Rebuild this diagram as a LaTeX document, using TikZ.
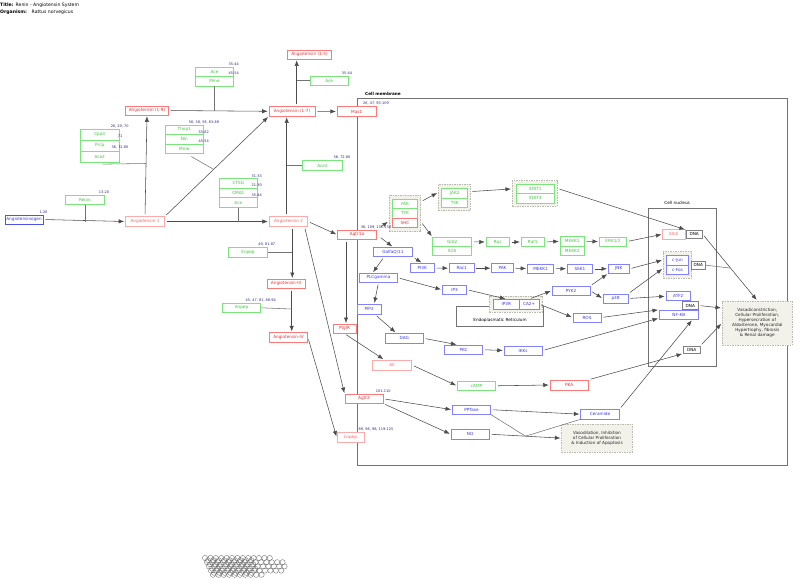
\documentclass[tikz,border=0pt]{standalone}
\usepackage{fontspec}
\setmainfont{DejaVu Sans}
\usetikzlibrary{arrows.meta,calc}
\newcommand\bxfont{\fontsize{4.2pt}{5pt}\selectfont}
\newcommand\nmfont{\fontsize{3.5pt}{4pt}\selectfont}
\newcommand\ttfnt{\fontsize{4.6pt}{5.5pt}\selectfont}
\definecolor{rB}{RGB}{255,120,120}
\definecolor{rT}{RGB}{235,45,45}
\definecolor{pB}{RGB}{255,170,170}
\definecolor{pT}{RGB}{250,95,95}
\definecolor{gB}{RGB}{120,230,120}
\definecolor{gT}{RGB}{60,200,60}
\definecolor{bB}{RGB}{130,130,255}
\definecolor{bB2}{RGB}{80,80,235}
\definecolor{bT}{RGB}{55,55,240}
\definecolor{numC}{RGB}{40,40,130}
\definecolor{grpF}{RGB}{243,242,234}
\definecolor{grpD}{RGB}{185,185,175}
\tikzset{
 bx/.style={draw, rectangle, line width=0.6pt, font=\bxfont, inner sep=0pt, fill=white},
 sz/.style 2 args={minimum width=#1pt, minimum height=#2pt},
 rb/.style={bx, draw=rB, text=rT},
 pb/.style={bx, draw=pB, text=pT},
 gb/.style={bx, draw=gB, text=gT},
 bb/.style={bx, draw=bB, text=bT},
 db/.style={bx, draw=black!50, text=black},
 grp/.style={draw=grpD, dash pattern=on 1.5pt off 1pt, fill=grpF, line width=0.7pt, inner sep=0pt},
 plainbox/.style={draw=black!55, line width=0.6pt, inner sep=0pt},
 num/.style={font=\nmfont, text=numC, inner sep=0pt},
 arr/.style={draw=black!70, line width=0.55pt, -{Latex[length=5.5pt,width=4.3pt]}, shorten >=1pt, shorten <=2pt},
 ln/.style={draw=black!55, line width=0.55pt},
 circ/.style={draw=black!60, line width=0.35pt},
}
\begin{document}
\begin{tikzpicture}[x=1pt,y=-1pt]
\useasboundingbox (0,0) rectangle (800,584);
% title
\node[anchor=west, font=\ttfnt\bfseries, inner sep=0pt] (tl) at (0,5) {Title:};
\node[anchor=west, font=\ttfnt, inner sep=0pt] (tv) at (15.5,5) {Renin - Angiotensin System};
\node[anchor=west, font=\ttfnt\bfseries, inner sep=0pt] (ol) at (0,12) {Organism:};
\node[anchor=west, font=\ttfnt, inner sep=0pt] (ov) at (31.5,12) {Rattus norvegicus};
% compartments
\node[plainbox, sz={429.7}{366.7}] (memb) at (572.15,281.65) {};
\node[anchor=west, font=\bxfont\bfseries, inner sep=0pt] (membl) at (365,93.5) {Cell membrane};
\node[plainbox, sz={68.4}{157.7}] (nuc) at (682.5,287.15) {};
\node[font=\bxfont, inner sep=0pt] (nucl) at (677.2,203.3) {Cell nucleus};
\node[plainbox, sz={87.3}{20.7}] (er) at (499.65,316.35) {};
\node[font=\bxfont, inner sep=0pt] (erl) at (500,320.3) {Endoplasmatic Reticulum};
% groups
\node[grp, sz={31.7}{36.7}] (fakgrp) at (404.85,213.35) {};
\node[grp, sz={31.7}{26.4}] (jakgrp) at (454.15,197.5) {};
\node[grp, sz={45}{25.3}] (statgrp) at (534.8,193.35) {};
\node[grp, sz={53}{16.3}] (ergrp) at (515.8,304.15) {};
\node[grp, sz={28.4}{26.6}] (cjungrp) at (677.5,265) {};
\node[grp, sz={70}{44}, font=\bxfont, align=center, text=black!85] (outcome) at (757.3,323)
 {\baselineskip=5.1pt Vasadiconstriction,\\ Cellular Proliferation,\\ Hypersecration of\\ Aldosterone, Myocardial\\ Hypertrophy, fibrosis\\ \& Renal damage};
\node[grp, sz={70.6}{28.3}, font=\bxfont, align=center, text=black!85] (vaso) at (597,438.15)
 {Vasodilation, Inhibition\\ of Cellular Proliferation\\ \& Induction of Apoptosis};
% red / pink
\node[rb, sz={43}{9}] (a19) at (147,110.5) {Angiotensin (1-9)};
\node[rb, sz={46}{9.5}] (a17) at (292,111.3) {Angiotensin (1-7)};
\node[rb, sz={44}{9}] (a15) at (309.5,54.5) {Angiotensin (1-5)};
\node[rb, sz={39}{9.5}] (mas1) at (356.7,111.5) {Mas1};
\node[pb, sz={39}{9.5}] (a1) at (145,221.5) {Angiotensin 1};
\node[pb, sz={38.5}{9.6}] (a2) at (288.5,221.5) {Angiotensin 2};
\node[rb, sz={39}{9.3}] (agtr1a) at (357,234.7) {Agtr1a};
\node[rb, sz={38.3}{9}] (a3) at (286,283.8) {Angiotensin-III};
\node[rb, sz={38.3}{9.6}] (a4) at (288.5,337.5) {Angiotensin-IV};
\node[rb, sz={22.7}{9}] (ptgir) at (344.5,328.8) {PtgIR};
\node[rb, sz={38.3}{9}] (agtr2) at (364,398.8) {Agtr2};
\node[pb, sz={27}{9.6}] (lnpep) at (350.5,437.5) {Lnpep};
\node[pb, sz={39}{10}] (ac) at (392.2,365) {AC};
\node[rb, sz={38.3}{10}] (pka) at (569.2,385) {PKA};
\node[pb, sz={22.3}{10}] (elk1) at (673.9,234.3) {Elk1};
% green
\node[gb, sz={39}{9.5}] (renin) at (85,200) {Renin};
\node[gb, sz={39.3}{11}] (cpa3) at (99.7,134.8) {Cpa3};
\node[gb, sz={39.3}{11}] (prcp) at (99.7,145.8) {Prcp};
\node[gb, sz={39.3}{11}] (ace2s) at (99.7,156.8) {Ace2};
\node[gb, sz={38}{9.4}] (thop1) at (184.3,129.7) {Thop1};
\node[gb, sz={38}{9.4}] (nln) at (184.3,139.1) {Nln};
\node[gb, sz={38}{9.4}] (mme) at (184.3,148.5) {Mme};
\node[gb, sz={37.6}{9.5}] (acet) at (214.5,71.9) {Ace};
\node[gb, sz={37.6}{9.5}] (mmet) at (214.5,81.4) {Mme};
\node[gb, sz={38.3}{9.3}] (acer) at (329.2,80.7) {Ace};
\node[gb, sz={40.4}{10.5}] (ace2) at (322.5,165.5) {Ace2};
\node[gb, sz={38}{9.7}] (ctsg) at (238.3,183.1) {CTSG};
\node[gb, sz={38}{9.7}] (cma1) at (238.3,192.8) {CMA1};
\node[gb, sz={38}{9.7}] (acec) at (238.3,202.5) {Ace};
\node[gb, sz={39.3}{9.7}] (enpep) at (248,252.2) {Enpep};
\node[gb, sz={38.3}{9}] (anpep) at (241.5,307.8) {Anpep};
\node[gb, sz={25.4}{9.3}] (fak) at (405,204) {FAK};
\node[gb, sz={25.4}{9.3}] (tyka) at (405,213.3) {TYK};
\node[rb, sz={25.4}{9.3}] (shc) at (405,222.6) {SHC};
\node[gb, sz={26}{9.5}] (jak2) at (454.7,193.05) {JAK2};
\node[gb, sz={26}{9.5}] (tykb) at (454.7,202.55) {TYK};
\node[gb, sz={38.3}{9.65}] (stat1) at (535.15,188.8) {STAT1};
\node[gb, sz={38.3}{9.65}] (stat3) at (535.15,198.45) {STAT3};
\node[gb, sz={39}{9.2}] (grb2) at (452.2,241.9) {Grb2};
\node[gb, sz={39}{9.2}] (sos) at (452.2,251.1) {SOS};
\node[gb, sz={23.3}{8.6}] (ras) at (497.7,242) {Ras};
\node[gb, sz={23.3}{9.3}] (raf1) at (532.7,242) {Raf1};
\node[gb, sz={24.3}{9.2}] (mekka) at (572.2,241.3) {MEKK1};
\node[gb, sz={24.3}{9.2}] (mekkb) at (572.2,250.5) {MEKK2};
\node[gb, sz={27.4}{9.3}] (erk) at (613,241.5) {ERK1/2};
\node[gb, sz={38.4}{9.7}] (camp) at (476.5,385.8) {cAMP};
% blue
\node[bb, draw=bB2, sz={38}{9}] (agen) at (24,219.5) {Angiotensinogen};
\node[bb, sz={39.4}{9.4}] (galfa) at (393,252) {GalfaQ/11};
\node[bb, sz={38.3}{9}] (plc) at (378.5,277.8) {PLCgamma};
\node[bb, sz={24.3}{9.4}] (pi3k) at (422.2,268) {PI3K};
\node[bb, sz={24.7}{9}] (rac1) at (461.7,268.2) {Rac1};
\node[bb, sz={21.6}{9}] (pak) at (502.5,268.2) {PAK};
\node[bb, sz={26}{9}] (mekk1) at (540.5,268.5) {MEKK1};
\node[bb, sz={25.4}{9}] (sek1) at (580,268.8) {SEK1};
\node[bb, sz={21}{9}] (jnk) at (618.8,268.8) {JNK};
\node[bb, sz={24.4}{9.3}] (ip3) at (454.5,289.7) {IP3};
\node[bb, sz={26}{9.7}] (ip3r) at (506.3,304.15) {IP3R};
\node[bb, sz={19.7}{9.7}] (ca) at (529.15,304.15) {CA2+};
\node[bb, sz={38}{9}] (pyk2) at (571,290.7) {PYK2};
\node[bb, sz={25}{9}] (p38) at (615.5,298.5) {p38};
\node[bb, sz={28}{9}] (ros) at (587,317.5) {ROS};
\node[bb, sz={23.7}{10}] (pip2) at (369.2,309.3) {PIP2};
\node[bb, sz={38.3}{10}] (dag) at (404.2,338.3) {DAG};
\node[bb, sz={38.4}{9.3}] (pkc) at (463.5,349.7) {PKC};
\node[bb, sz={38.3}{9}] (ikk) at (523.2,350.5) {IKKs};
\node[bb, sz={38.4}{9.3}] (pptase) at (471.5,409.7) {PPTase};
\node[bb, sz={38.3}{9.7}] (no) at (470.2,434.2) {NO};
\node[bb, sz={38.6}{9.7}] (ceramide) at (600,414.2) {Ceramide};
\node[bb, sz={21.6}{9.5}] (cjun) at (677.5,260.05) {c-Jun};
\node[bb, sz={21.6}{9.5}] (cfos) at (677.5,269.55) {c-Fos};
\node[bb, sz={24.7}{9}] (atf2) at (678.3,296.2) {ATF2};
\node[bb, sz={39}{9.3}] (nfkb) at (678.8,314.7) {NF-KB};
% DNA
\node[db, sz={16.3}{8.3}] (dna1) at (694.2,234.2) {DNA};
\node[db, sz={14.7}{8.3}] (dna2) at (698.3,265.2) {DNA};
\node[db, sz={16}{7.6}] (dna3) at (690.3,305.5) {DNA};
\node[db, sz={16.7}{7.3}] (dna4) at (691.7,349.7) {DNA};
% number labels
\node[num] (n1) at (43.5,212.7) {1-20};
\node[num] (n2) at (104,192.3) {13-20};
\node[num] (n3) at (119.7,126) {26, 29, 70};
\node[num] (n4) at (120,136.7) {71};
\node[num] (n5) at (120,147.7) {36, 72-80};
\node[num] (n6) at (204,122.7) {56, 58, 59, 63-69};
\node[num] (n7) at (203.8,132) {55-62};
\node[num] (n8) at (203.8,141.7) {45-54};
\node[num] (n9) at (233.8,64) {35-44};
\node[num] (n10) at (233.8,73.3) {45-54};
\node[num] (n11) at (347,73.3) {35-44};
\node[num] (n12) at (376,103) {26, 47, 95-109};
\node[num] (n13) at (342,157.3) {36, 72-80};
\node[num] (n14) at (256.7,176) {31-33};
\node[num] (n15) at (256.7,185.3) {21-30};
\node[num] (n16) at (256.7,195.3) {35-44};
\node[num] (n17) at (266.8,244.3) {49, 81-87};
\node[num] (n18) at (260.8,300.3) {45, 47, 81, 88-94};
\node[num] (n19) at (376,227) {36, 109, 131-138};
\node[num] (n20) at (383.3,391) {101-110};
\node[num] (n21) at (376,429.3) {89, 96, 98, 119-125};
% connectors: RAS
\draw[arr] (agen.east) -- (a1.west);
\draw[ln] (renin.south) -- (renin.south |- a1.west);
\draw[arr] (a1.north) -- (a19.south);
\coordinate (jc) at (146,163.5);
\draw[ln] ($(ace2s.south)+(3,1.5)$) -- (jc);
\draw[arr] (a1.north east) -- (a17.south west);
\coordinate (jt) at ($(a1.north east)!0.47!(a17.south west)$);
\draw[ln] ($(mme.south)+(7,3)$) -- (jt);
\draw[arr] (a19.east) -- (a17.west);
\draw[ln] (mmet.south) -- (mmet.south |- a17.west);
\draw[arr] (a17.east) -- (mas1.west);
\draw[arr] ($(a17.north)+(4.7,0)$) -- ($(a15.south)+(-12.8,0)$);
\coordinate (j15) at (296.7,80.7);
\draw[ln] (acer.west) -- (j15);
\draw[arr] ($(a2.north)+(-1.8,0)$) -- ($(a17.south)+(-5.3,0)$);
\coordinate (j17) at (286.7,165.5);
\draw[ln] (ace2.west) -- (j17);
\draw[arr] (a1.east) -- (a2.west);
\draw[ln] (acec.south) -- (acec.south |- a2.west);
\draw[arr] ($(a2.south)+(3.8,0)$) -- ($(a3.north)+(6.3,0)$);
\coordinate (je) at (292.3,252.2);
\draw[ln] (enpep.east) -- (je);
\draw[arr] ($(a3.south)+(5.7,0)$) -- ($(a4.north)+(3.2,0)$);
\coordinate (ja) at (291.7,309);
\draw[ln] (anpep.east) -- (ja);
\draw[arr] (a2.east) -- (agtr1a.west);
\draw[arr] ($(a2.south)+(16,0)$) -- (agtr2.north west);
\draw[arr] (a4.east) -- (lnpep.west);
\draw[arr] ($(agtr1a.south)+(-11,0)$) -- ($(ptgir.north)+(1.5,0)$);
% signalling
\draw[arr, shorten <=5pt] (agtr1a.north east) -- (fakgrp.206);
\draw[arr, shorten <=5pt] (agtr1a.east) -- (galfa.north);
\draw[arr] (fakgrp.36) -- (jakgrp.163);
\draw[arr] (fakgrp.-28) -- (grb2.north west);
\draw[arr] (jakgrp.20) -- (statgrp.169);
\draw[arr] (statgrp.12) -- (dna1.north west);
\draw[arr] (grb2.east) -- (ras.west);
\draw[arr] (ras.east) -- (raf1.west);
\draw[arr] (raf1.east) -- (mekka.west);
\draw[arr] (mekka.east) -- (erk.west);
\draw[arr] (erk.east) -- (elk1.west);
\draw[arr] (galfa.south east) -- (pi3k.north);
\draw[arr] ($(galfa.south)+(-9,0)$) -- ($(plc.north)+(-6,0)$);
\draw[arr] (pi3k.east) -- (rac1.west);
\draw[arr] (rac1.east) -- (pak.west);
\draw[arr] (pak.east) -- (mekk1.west);
\draw[arr] (mekk1.east) -- (sek1.west);
\draw[arr] (sek1.east) -- (jnk.west);
\draw[arr] (jnk.east) -- (cjungrp.161);
\draw[arr] (plc.east) -- (ip3.west);
\draw[arr] (plc.south) -- ($(pip2.north)+(5,0)$);
\draw[arr] (ip3.east) -- (ip3r.north);
\draw[arr] (ca.north) -- (pyk2.west);
\draw[arr] (ca.east) -- (ros.west);
\draw[arr] (pyk2.north east) -- (jnk.south west);
\draw[arr] (pyk2.east) -- (p38.west);
\draw[arr] (p38.east) -- (atf2.west);
\draw[arr] (p38.north east) -- (cjungrp.193);
\draw[arr] (ros.east) -- (nfkb.166);
\draw[arr] (ikk.east) -- (nfkb.190);
\draw[arr] (ceramide.north east) -- (nfkb.-20);
\draw[arr] (pka.north east) -- (dna4.south west);
\draw[arr] (dna1.east) -- (outcome.north);
\coordinate (jd) at ($(dna1.east)!0.51!(outcome.north)$);
\draw[ln] (dna2.east) -- (jd);
\draw[arr] (dna3.east) -- (outcome.157);
\draw[arr] (dna4.north east) -- (outcome.west);
\draw[arr] ($(pip2.south)+(6,0)$) -- ($(dag.north)+(-8,0)$);
\draw[arr] (dag.east) -- ($(pkc.north)+(-6,0)$);
\draw[arr] (pkc.east) -- (ikk.west);
\draw[arr] (ptgir.south) -- ($(ac.north)+(-8,0)$);
\draw[arr] (ac.east) -- (camp.west);
\draw[arr] (camp.east) -- (pka.west);
\draw[arr] (agtr2.east) -- (pptase.west);
\draw[arr] (agtr2.south east) -- (no.west);
\draw[arr] (pptase.east) -- (ceramide.west);
\draw[arr] (no.east) -- (vaso.west);
\coordinate (jv) at ($(no.east)!0.5!(vaso.west)$);
\draw[ln] (pptase.south east) -- (jv);
\draw[ln] (ceramide.south west) -- (jv);
% circle cluster
\foreach \r/\a/\n in {0/205/12, 1/207/14, 2/209/14, 3/211/13, 4/213/9}{
  \foreach \k in {0,...,\n}{
    \draw[circ] ({\a+5.4*\k},{558+4.2*\r}) circle[radius=2.6pt];
  }
}
\foreach \r/\a/\n in {0/208/8, 1/210/8, 2/212/8, 3/214/7}{
  \foreach \k in {0,...,\n}{
    \draw[circ] ({\a+5.4*\k},{560.2+4.2*\r}) circle[radius=2.6pt];
  }
}
\end{tikzpicture}
\end{document}
